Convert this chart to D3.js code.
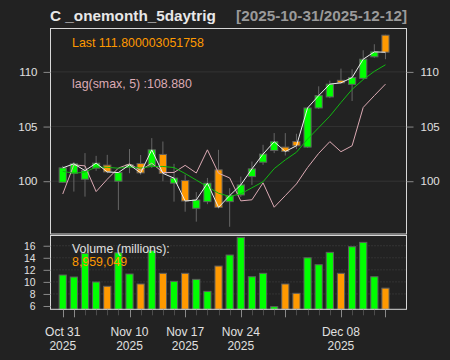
<!DOCTYPE html>
<html><head><meta charset="utf-8">
<script src="https://cdn.jsdelivr.net/npm/d3@7"></script>
<style>body{margin:0;background:#222222}svg{display:block}text{font-family:"Liberation Sans",Arial,sans-serif}</style>
</head><body><svg id="c" width="450" height="360"></svg>
<script>
const dates = ["2025-10-31","2025-11-03","2025-11-04","2025-11-05","2025-11-06","2025-11-07",
"2025-11-10","2025-11-11","2025-11-12","2025-11-13","2025-11-14",
"2025-11-17","2025-11-18","2025-11-19","2025-11-20","2025-11-21",
"2025-11-24","2025-11-25","2025-11-26","2025-11-28",
"2025-12-01","2025-12-02","2025-12-03","2025-12-04","2025-12-05",
"2025-12-08","2025-12-09","2025-12-10","2025-12-11","2025-12-12"];
const open  = [99.90,100.73,100.18,101.19,101.47,100.00,101.30,101.62,101.40,102.45,99.82,100.06,97.52,98.13,101.04,98.13,98.74,100.42,101.74,102.81,103.12,103.63,103.12,106.70,107.71,109.23,108.86,109.41,111.38,113.36];
const high  = [101.40,101.75,102.57,102.32,102.41,100.85,102.94,102.40,103.94,103.63,101.59,100.60,99.00,100.30,102.87,99.36,100.42,101.80,103.33,104.40,104.40,104.34,106.75,108.68,109.20,110.30,110.24,111.98,112.53,113.40];
const low   = [99.85,99.05,98.59,100.95,100.73,97.37,100.73,100.60,101.20,100.00,98.13,97.21,96.30,97.90,97.50,95.83,98.56,99.66,101.50,102.57,102.35,102.94,103.05,106.60,107.60,108.90,107.34,109.30,111.30,111.16];
const close = [101.22,101.59,100.97,101.65,100.85,100.79,101.50,100.76,102.87,100.72,100.28,98.19,98.28,99.82,97.61,98.68,99.66,101.13,102.48,103.61,102.72,103.24,106.70,107.83,108.88,109.00,109.48,111.16,111.83,111.80];
const volume = [11.14,10.81,14.74,9.98,9.27,14.84,11.31,9.65,15.18,11.42,10.09,11.42,10.42,8.43,12.63,14.46,17.39,10.86,11.42,5.89,9.65,8.10,14.00,12.85,14.90,11.42,15.84,16.56,10.86,8.96];
const smaLine = [100.90,100.73,100.83,101.30,101.27,101.19,101.30,101.20,101.35,101.35,101.25,100.70,100.10,99.50,98.90,98.60,98.85,99.40,99.95,101.15,101.95,102.65,103.85,104.90,105.95,107.20,108.40,109.30,110.05,110.65];
const lagLine = [98.83,101.50,101.40,99.05,100.18,101.20,101.58,101.00,101.65,100.80,100.80,101.45,100.75,102.87,100.73,100.30,98.20,98.30,99.85,97.62,98.68,99.75,101.25,102.55,103.62,102.70,103.24,106.75,107.83,108.88];
const priceTicks = [100,105,110];
const volTicks = [6,8,10,12,14,16];
const majorTickIdx = [0,1,6,11,16,20,25,29];
const labelIdx = [0,6,11,16,25];
const labelText = [["Oct 31","2025"],["Nov 10","2025"],["Nov 17","2025"],["Nov 24","2025"],["Dec 08","2025"]];
const titleText = "C _onemonth_5daytrig";
const rangeText = "[2025-10-31/2025-12-12]";
const lastText = "Last 111.800003051758";
const lagText = "lag(smax, 5) :108.880";
const volText = "Volume (millions):";
const volLast = "8,959,049";

const svg = d3.select("#c");
const L = 50.5, R = 406.5, mT = 28.5, mB = 234, vT = 235.5, vB = 309.3;
const UP = "#00ff00", DN = "#ff9900", EDGE = "#5e5e5e";
const x = d3.scaleLinear().domain([-1.1, 30.89]).range([L, R]);
const y = d3.scaleLinear().domain([95.17, 113.97]).range([mB, mT]);
const yv = d3.scaleLinear().domain([5.45, 17.7]).range([vB, vT]);
const idx = d3.range(dates.length);
const bw = 7.2;

// grid
svg.append("g").selectAll("line").data(priceTicks).join("line")
  .attr("x1", L).attr("x2", R).attr("y1", d => y(d)).attr("y2", d => y(d))
  .attr("stroke", "#333333").attr("stroke-width", 1);
svg.append("g").selectAll("line").data(volTicks.slice(1)).join("line")
  .attr("x1", L).attr("x2", R).attr("y1", d => yv(d)).attr("y2", d => yv(d))
  .attr("stroke", "#444444").attr("stroke-dasharray", "1,2");

// candles
const cg = svg.append("g");
cg.selectAll("line.w").data(idx).join("line")
  .attr("x1", i => x(i)).attr("x2", i => x(i))
  .attr("y1", i => y(high[i])).attr("y2", i => y(low[i]))
  .attr("stroke", "#666666").attr("stroke-width", 1);
cg.selectAll("rect").data(idx).join("rect")
  .attr("x", i => x(i) - bw/2).attr("width", bw)
  .attr("y", i => y(Math.max(open[i], close[i])))
  .attr("height", i => Math.max(1, Math.abs(y(open[i]) - y(close[i]))))
  .attr("fill", i => close[i] >= open[i] ? UP : DN)
  .attr("stroke", EDGE).attr("stroke-width", 1);

// lines
const ln = d3.line().x((d, i) => x(i)).y(d => y(d));
svg.append("path").attr("d", ln(lagLine)).attr("fill", "none").attr("stroke", "#dcaab4").attr("stroke-width", 1);
svg.append("path").attr("d", ln(smaLine)).attr("fill", "none").attr("stroke", "#11b811").attr("stroke-width", 1);
svg.append("path").attr("d", ln(close)).attr("fill", "none").attr("stroke", "#eeeeee").attr("stroke-width", 1);

// volume bars
svg.append("g").selectAll("rect").data(idx).join("rect")
  .attr("x", i => x(i) - bw/2).attr("width", bw)
  .attr("y", i => yv(volume[i])).attr("height", i => yv(5.45) - yv(volume[i]))
  .attr("fill", i => close[i] >= open[i] ? UP : DN)
  .attr("stroke", EDGE).attr("stroke-width", 1);

// panel borders
svg.append("rect").attr("x", L).attr("y", mT).attr("width", R - L).attr("height", mB - mT)
  .attr("fill", "none").attr("stroke", "#d8d8d8").attr("stroke-width", 1);
svg.append("rect").attr("x", L).attr("y", vT).attr("width", R - L).attr("height", vB - vT)
  .attr("fill", "none").attr("stroke", "#d8d8d8").attr("stroke-width", 1);

// axes
const tc = "#e0e0e0";
const leftAx = svg.append("g").attr("transform", `translate(${L},0)`)
  .call(d3.axisLeft(y).tickValues(priceTicks).tickSize(7).tickPadding(6).tickFormat(d3.format("d")));
const rightAx = svg.append("g").attr("transform", `translate(${R},0)`)
  .call(d3.axisRight(y).tickValues(priceTicks).tickSize(7).tickPadding(7).tickFormat(d3.format("d")));
const volAx = svg.append("g").attr("transform", `translate(${L},0)`)
  .call(d3.axisLeft(yv).tickValues(volTicks).tickSize(7).tickPadding(8).tickFormat(d3.format("d")));
[leftAx, rightAx].forEach(g => {
  g.select(".domain").remove();
  g.selectAll(".tick line").attr("stroke", "#8a8a8a");
  g.selectAll(".tick text").attr("fill", tc).attr("font-size", 11.5).attr("font-family", '"Liberation Sans",Arial,sans-serif');
});
volAx.select(".domain").remove();
volAx.selectAll(".tick line").attr("stroke", "#8a8a8a");
volAx.selectAll(".tick text").attr("fill", tc).attr("font-size", 10.4).attr("font-family", '"Liberation Sans",Arial,sans-serif');

// x ticks
svg.append("g").selectAll("line").data(idx).join("line")
  .attr("x1", i => Math.round(x(i)) + 0.5).attr("x2", i => Math.round(x(i)) + 0.5)
  .attr("y1", vB + 0.5).attr("y2", i => majorTickIdx.includes(i) ? vB + 8 : vB + 6)
  .attr("stroke", i => majorTickIdx.includes(i) ? "#8a8a8a" : "#4c4c4c");
const xl = svg.append("g").selectAll("text").data(labelIdx).join("text")
  .attr("x", i => x(i)).attr("text-anchor", "middle").attr("fill", tc).attr("font-size", 12);
xl.append("tspan").attr("x", i => x(i)).attr("y", 336).text((d, k) => labelText[k][0]);
xl.append("tspan").attr("x", i => x(i)).attr("y", 350).text((d, k) => labelText[k][1]);

// titles and legends
svg.append("text").attr("x", 50).attr("y", 21).attr("font-size", 15.3).attr("font-weight", "bold")
  .attr("fill", "#e8e8e8").text(titleText);
svg.append("text").attr("x", 407).attr("y", 21).attr("font-size", 15.3).attr("font-weight", "bold")
  .attr("text-anchor", "end").attr("fill", "#9a9a9a").text(rangeText);
svg.append("text").attr("x", 72).attr("y", 47).attr("font-size", 12.4).attr("fill", DN).text(lastText);
svg.append("text").attr("x", 72).attr("y", 88).attr("font-size", 12.4).attr("fill", "#dcaab4").text(lagText);
svg.append("text").attr("x", 72).attr("y", 253).attr("font-size", 12.4).attr("fill", "#e0e0e0").text(volText);
svg.append("text").attr("x", 72).attr("y", 266).attr("font-size", 12.4).attr("fill", DN).text(volLast);
</script></body></html>
